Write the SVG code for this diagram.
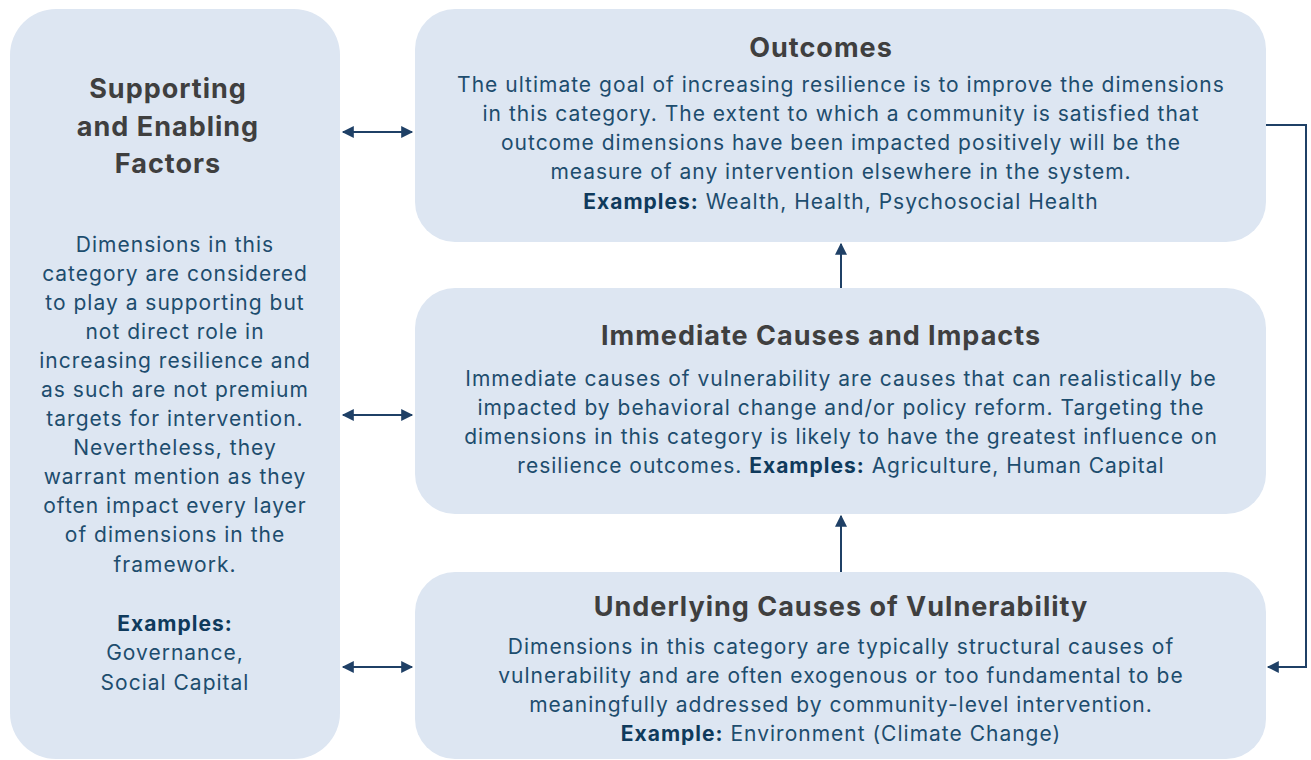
<svg xmlns="http://www.w3.org/2000/svg" width="1311" height="760" viewBox="0 0 1311 760">
<defs>
<style>
.box{fill:#dde6f2}
.t{font-family:Inter,"DejaVu Sans",sans-serif;font-weight:bold;font-size:27px;letter-spacing:1px;fill:#3f3f3f;text-anchor:middle}
.b{font-family:Inter,"DejaVu Sans",sans-serif;font-size:21px;letter-spacing:1px;fill:#1d4d6e;text-anchor:middle}
.k{font-weight:bold;fill:#0f3a5c}
.c{stroke:#1f4066;stroke-width:2;fill:none}
</style>
<marker id="ah" viewBox="0 0 10 10" refX="9" refY="5" markerWidth="7" markerHeight="6" orient="auto-start-reverse" markerUnits="strokeWidth">
<path d="M0,0 L10,5 L0,10 z" fill="#1f4066"/>
</marker>
</defs>
<rect width="1311" height="760" fill="#ffffff"/>
<g id="supporting">
<rect class="box" x="10" y="9" width="330" height="750" rx="46"/>
<text class="t" x="168" y="98">Supporting</text>
<text class="t" x="168" y="136">and Enabling</text>
<text class="t" x="168" y="173">Factors</text>
<text class="b" x="175" y="252">Dimensions in this</text>
<text class="b" x="175" y="281">category are considered</text>
<text class="b" x="175" y="310">to play a supporting but</text>
<text class="b" x="175" y="339">not direct role in</text>
<text class="b" x="175" y="368">increasing resilience and</text>
<text class="b" x="175" y="397">as such are not premium</text>
<text class="b" x="175" y="426">targets for intervention.</text>
<text class="b" x="175" y="455">Nevertheless, they</text>
<text class="b" x="175" y="484">warrant mention as they</text>
<text class="b" x="175" y="513">often impact every layer</text>
<text class="b" x="175" y="542">of dimensions in the</text>
<text class="b" x="175" y="572">framework.</text>
<text class="b k" x="175" y="631">Examples:</text>
<text class="b" x="175" y="660">Governance,</text>
<text class="b" x="175" y="690">Social Capital</text>
</g>
<g id="outcomes">
<rect class="box" x="415" y="9" width="851" height="233" rx="40"/>
<text class="t" x="821" y="57">Outcomes</text>
<text class="b" x="841" y="92">The ultimate goal of increasing resilience is to improve the dimensions</text>
<text class="b" x="841" y="121">in this category. The extent to which a community is satisfied that</text>
<text class="b" x="841" y="150">outcome dimensions have been impacted positively will be the</text>
<text class="b" x="841" y="179">measure of any intervention elsewhere in the system.</text>
<text class="b" x="841" y="209"><tspan class="k">Examples:</tspan> Wealth, Health, Psychosocial Health</text>
</g>
<g id="immediate">
<rect class="box" x="415" y="288" width="851" height="226" rx="40"/>
<text class="t" x="821" y="345">Immediate Causes and Impacts</text>
<text class="b" x="841" y="386">Immediate causes of vulnerability are causes that can realistically be</text>
<text class="b" x="841" y="415">impacted by behavioral change and/or policy reform. Targeting the</text>
<text class="b" x="841" y="444">dimensions in this category is likely to have the greatest influence on</text>
<text class="b" x="841" y="473">resilience outcomes. <tspan class="k">Examples:</tspan> Agriculture, Human Capital</text>
</g>
<g id="underlying">
<rect class="box" x="415" y="572" width="851" height="187" rx="40"/>
<text class="t" x="841" y="616">Underlying Causes of Vulnerability</text>
<text class="b" x="841" y="654">Dimensions in this category are typically structural causes of</text>
<text class="b" x="841" y="683">vulnerability and are often exogenous or too fundamental to be</text>
<text class="b" x="841" y="712">meaningfully addressed by community-level intervention.</text>
<text class="b" x="841" y="741"><tspan class="k">Example:</tspan> Environment (Climate Change)</text>
</g>
<g id="connectors">
<line class="c" x1="343" y1="132" x2="412" y2="132" marker-start="url(#ah)" marker-end="url(#ah)"/>
<line class="c" x1="343" y1="415" x2="412" y2="415" marker-start="url(#ah)" marker-end="url(#ah)"/>
<line class="c" x1="343" y1="667" x2="412" y2="667" marker-start="url(#ah)" marker-end="url(#ah)"/>
<line class="c" x1="841" y1="288" x2="841" y2="244" marker-end="url(#ah)"/>
<line class="c" x1="841" y1="572" x2="841" y2="516" marker-end="url(#ah)"/>
<polyline class="c" points="1266,125 1306,125 1306,667 1268,667" marker-end="url(#ah)"/>
</g>
</svg>
